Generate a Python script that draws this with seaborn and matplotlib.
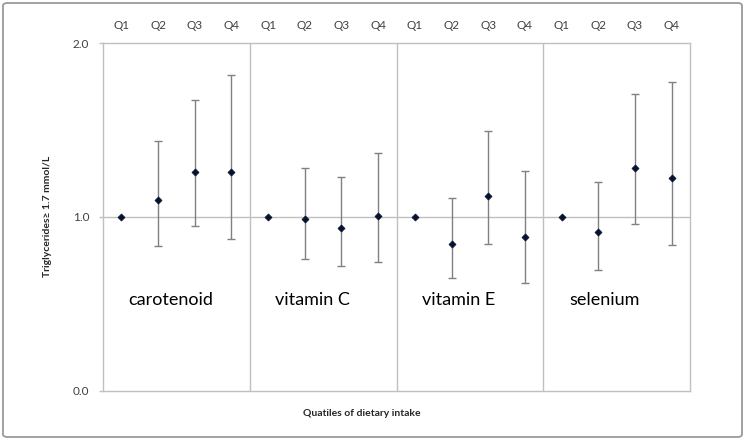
import numpy as np
import pandas as pd
import matplotlib
matplotlib.use("Agg")
import matplotlib.pyplot as plt
from matplotlib.patches import FancyBboxPatch
import seaborn as sns

groups = ["carotenoid", "vitamin C", "vitamin E", "selenium"]
quartiles = ["Q1", "Q2", "Q3", "Q4"]
carotenoid = [1.0, 1.094, 1.258, 1.258]
carotenoid_lo = [1.0, 0.831, 0.946, 0.871]
carotenoid_hi = [1.0, 1.438, 1.673, 1.814]
vitamin_c = [1.0, 0.985, 0.937, 1.004]
vitamin_c_lo = [1.0, 0.756, 0.714, 0.739]
vitamin_c_hi = [1.0, 1.278, 1.229, 1.367]
vitamin_e = [1.0, 0.846, 1.121, 0.881]
vitamin_e_lo = [1.0, 0.647, 0.843, 0.616]
vitamin_e_hi = [1.0, 1.108, 1.494, 1.261]
selenium = [1.0, 0.910, 1.281, 1.221]
selenium_lo = [1.0, 0.693, 0.958, 0.837]
selenium_hi = [1.0, 1.200, 1.709, 1.776]

sns.set_theme(style="white")
plt.rcParams['font.family'] = ['Lato', 'DejaVu Sans']

vals = carotenoid + vitamin_c + vitamin_e + selenium
los = carotenoid_lo + vitamin_c_lo + vitamin_e_lo + selenium_lo
his = carotenoid_hi + vitamin_c_hi + vitamin_e_hi + selenium_hi
df = pd.DataFrame({
    "pos": np.arange(16),
    "group": np.repeat(groups, 4),
    "quartile": quartiles * 4,
    "or": vals,
    "lo": los,
    "hi": his,
})

fig = plt.figure(figsize=(7.45, 4.4), dpi=100)
ax = fig.add_axes([103/745, 1-390.5/440, 587/745, 347.5/440])

# outer frame
frame = FancyBboxPatch((3/745, 3/440), 739/745, 434/440,
                       boxstyle="round,pad=0,rounding_size=0.006",
                       transform=fig.transFigure, fill=False,
                       edgecolor="#9a9a9a", linewidth=1.3)
fig.patches.append(frame)

ax.axhline(1.0, color="#c0c0c0", lw=1, zorder=1)
for b in [3.5, 7.5, 11.5]:
    ax.axvline(b, color="#c0c0c0", lw=1, zorder=1)

has_ci = df["hi"] > df["lo"]
sub = df[has_ci]
ax.errorbar(sub["pos"], sub["or"],
            yerr=[sub["or"] - sub["lo"], sub["hi"] - sub["or"]],
            fmt="none", ecolor="#808080", elinewidth=1, capsize=2.8,
            capthick=1, zorder=2)
sns.scatterplot(data=df, x="pos", y="or", marker="D", s=13,
                color="#061230", edgecolor="#061230", linewidth=0.5,
                ax=ax, zorder=3, legend=False)

ax.set_xlim(-0.5, 15.5)
ax.set_ylim(0, 2.0)
ax.set_yticks([0.0, 1.0, 2.0])
ax.set_yticklabels(["0.0", "1.0", "2.0"], fontsize=8.5, color="#404040")
ax.tick_params(axis="y", length=3, width=1, color="#c0c0c0", pad=7, left=True)
ax.xaxis.tick_top()
ax.set_xticks(df["pos"])
ax.set_xticklabels(df["quartile"], fontsize=8.5, color="#404040")
ax.tick_params(axis="x", length=0, pad=9)
ax.set_xlabel("")
ax.set_ylabel("")
for s in ax.spines.values():
    s.set_color("#c0c0c0")
    s.set_linewidth(1)

for i, g in enumerate(groups):
    ax.text(i*4 + 0.2, 0.52, g, fontsize=13, ha="left", va="center", color="#000000")

fig.text(47/745, 1-216/440, "Triglycerides\u2265 1.7 mmol/L", rotation=90,
         ha="center", va="center", fontsize=7.5, fontweight="bold")
fig.text(362/745, 1-413/440, "Quatiles of dietary intake",
         ha="center", va="center", fontsize=7.5, fontweight="bold")

fig.savefig("out.png", dpi=100)
